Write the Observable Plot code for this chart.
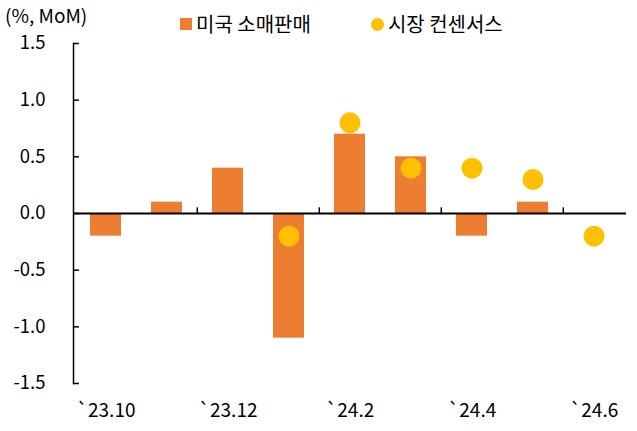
<!DOCTYPE html>
<html><head><meta charset="utf-8">
<script src="https://cdn.jsdelivr.net/npm/d3@7"></script>
<script src="https://cdn.jsdelivr.net/npm/@observablehq/plot@0.6"></script>
<style>
body{margin:0;background:#fff;font-family:"Noto Sans CJK KR","Noto Sans",sans-serif;}
#wrap{position:relative;width:637px;height:431px;}
#unit{position:absolute;left:5px;top:3px;font-size:19px;line-height:24px;color:#000;}
#legend{position:absolute;left:180px;top:12px;font-size:20px;line-height:24px;display:flex;align-items:center;color:#000;}
.sw{display:inline-block;width:12px;height:12px;background:#ED7D31;margin-right:4px;}
.dt{display:inline-block;width:13px;height:13px;border-radius:50%;background:#FFC000;margin-right:4px;margin-left:60px;}
#chart{position:absolute;left:0;top:0;}
</style></head>
<body><div id="wrap">
<div id="chart"></div>
<div id="unit">(%, MoM)</div>
<div id="legend"><span class="sw"></span>미국 소매판매<span class="dt"></span>시장 컨센서스</div>
</div>
<script>
const months = ["`23.10","`23.11","`23.12","`24.1","`24.2","`24.3","`24.4","`24.5","`24.6"];
const retailSales = [-0.2, 0.1, 0.4, -1.1, 0.7, 0.5, -0.2, 0.1, null];
const consensus = [null, null, null, -0.2, 0.8, 0.4, 0.4, 0.3, -0.2];
const xTickLabels = ["`23.10","`23.12","`24.2","`24.4","`24.6"];
const boundaryTicks = ["`23.12","`24.2","`24.4","`24.6"];
const yTicks = [-1.5,-1.0,-0.5,0,0.5,1.0,1.5];

const bars = months.map((m,i)=>({m, v: retailSales[i]})).filter(d=>d.v!=null);
const dots = months.map((m,i)=>({m, v: consensus[i]})).filter(d=>d.v!=null);

const plot = Plot.plot({
  width: 637, height: 431,
  marginLeft: 73, marginRight: 11, marginTop: 43, marginBottom: 48,
  style: {fontFamily: '"Noto Sans CJK KR","Noto Sans",sans-serif', fontSize: "18px", color: "#000", background: "#fff"},
  x: {domain: months, paddingInner: 0.5, paddingOuter: 0.25, axis: null},
  y: {domain: [-1.5, 1.5], axis: null},
  marks: [
    Plot.barY(bars, {x: "m", y: "v", fill: "#ED7D31"}),
    Plot.dot(dots, {x: "m", y: "v", r: 10.5, fill: "#FFC000"}),
    Plot.ruleY([0], {stroke: "#000", strokeWidth: 2}),
    Plot.ruleX(boundaryTicks, {x: d=>d, y1: 0, y2: 0.05, dx: -30.7, stroke: "#000", strokeWidth: 1.5}),
    Plot.frame({anchor: "left", stroke: "#000", strokeWidth: 1.5}),
    Plot.ruleY(yTicks, {insetRight: 547, stroke: "#000", strokeWidth: 1.5}),
    Plot.axisY({ticks: yTicks, tickSize: 0, tickPadding: 28, tickFormat: d => d3.format(".1f")(d).replace("−", "-"), fontSize: 18.5, label: null}),
    Plot.axisX({ticks: xTickLabels, tickSize: 0, tickPadding: 20, anchor: "bottom", fontSize: 19, label: null})
  ]
});
document.getElementById("chart").appendChild(plot);
</script></body></html>
